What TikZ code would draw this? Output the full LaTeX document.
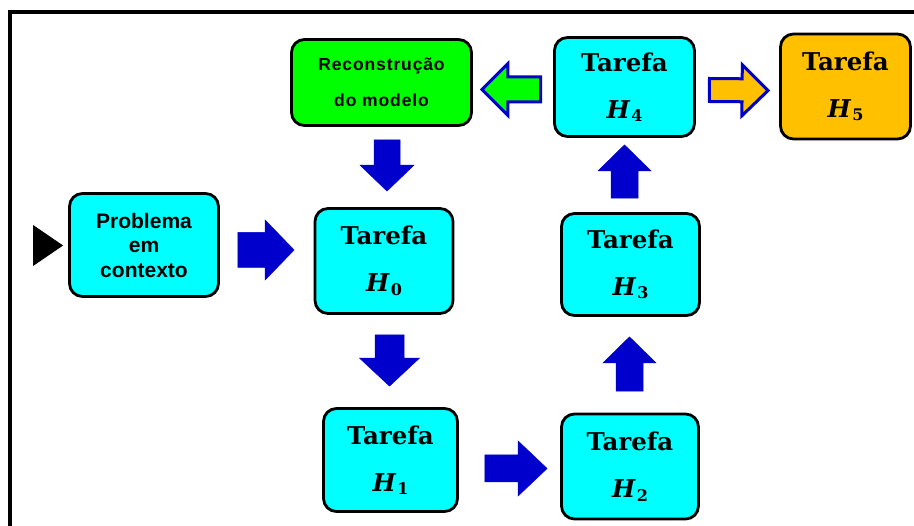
\documentclass[tikz,border=0pt]{standalone}
\usepackage{fontspec}
\setmainfont{DejaVu Serif}
\newfontfamily\arialfont{Liberation Sans}
\newfontfamily\arialwide{Liberation Sans}[LetterSpace=5]
\usetikzlibrary{arrows.meta,calc}
\usepackage{xcolor}
\definecolor{TaskCyan}{RGB}{0,255,255}
\definecolor{ModelGreen}{RGB}{0,255,0}
\definecolor{FinalOrange}{RGB}{255,192,0}
\definecolor{ArrowBlue}{RGB}{0,0,204}
\newcommand{\Hsub}[1]{{\itshape H}\kern1.5pt\raisebox{-3.5pt}{\fontsize{16}{16}\selectfont #1}}

\begin{document}
\begin{tikzpicture}[x=1pt, y=-1pt,
    task/.style={rectangle, draw=black, line width=2.8pt, fill=TaskCyan, rounded corners=13pt,
                 minimum width=138pt, minimum height=103pt, inner sep=0pt, align=center,
                 font=\fontsize{24.5}{47}\selectfont\bfseries},
    ctx/.style={task, font=\arialfont\fontsize{21}{24.5}\selectfont\bfseries},
    block/.style n args={3}{to path={
        let \p1=(\tikztostart), \p2=(\tikztotarget),
            \n1={atan2(\y2-\y1,\x2-\x1)}, \n2={veclen(\x2-\x1,\y2-\y1)} in
        ($(\p1)+(\n1+90:#1)$) -- ($(\p1)+(\n1:\n2-#3)+(\n1+90:#1)$)
        -- ($(\p1)+(\n1:\n2-#3)+(\n1+90:#2)$) -- (\p2)
        -- ($(\p1)+(\n1:\n2-#3)+(\n1-90:#2)$) -- ($(\p1)+(\n1:\n2-#3)+(\n1-90:#1)$)
        -- ($(\p1)+(\n1-90:#1)$) -- cycle}},
    barrow/.style={fill=ArrowBlue, draw=ArrowBlue, line width=0.5pt},
    oarrow/.style={draw=ArrowBlue, line width=3pt}
]
    \useasboundingbox (0,0) rectangle (914,526);
    \draw[line width=3.5pt] (10,530) -- (10,12) -- (918,12);

    \node[ctx, minimum width=149pt, minimum height=103pt] (prob) at (144,245) {Problema\\em\\contexto};
    \node[task, minimum width=138pt, minimum height=105pt] (h0) at (384,261) {Tarefa\\\Hsub{0}};
    \node[task, fill=ModelGreen, minimum width=180pt, minimum height=86pt,
          font=\arialwide\fontsize{17.5}{36}\selectfont\bfseries] (recon) at (381.5,82.5) {Reconstrução\\do modelo};
    \node[task, minimum width=134pt, minimum height=103pt] (h1) at (390.5,460) {Tarefa\\\Hsub{1}};
    \node[task, minimum width=137pt, minimum height=105pt] (h2) at (630,466.5) {Tarefa\\\Hsub{2}};
    \node[task, minimum width=138pt, minimum height=102pt] (h3) at (630.5,264.5) {Tarefa\\\Hsub{3}};
    \node[task, minimum width=140pt, minimum height=99pt] (h4) at (624.5,87) {Tarefa\\\Hsub{4}};
    \node[task, fill=FinalOrange, minimum width=130pt, minimum height=105pt] (h5) at (845.5,86.5) {Tarefa\\\Hsub{5}};

    \fill ($(prob.west)+(-5,0.5)$) -- ++(-30,-20.5) -- ++(0,41) -- cycle;

    \draw[barrow, block={17.5pt}{30pt}{29pt}] ($(prob.east)+(18,5)$) to ($(h0.west)+(-19.5,-11)$);
    \draw[barrow, block={13pt}{27pt}{26pt}] ($(recon.south)+(5.5,13)$) to ($(h0.north)+(3,-16)$);
    \draw[barrow, block={14.5pt}{30pt}{28pt}] ($(h0.south)+(5.5,20)$) to ($(h1.north)+(-1,-21)$);
    \draw[barrow, block={13.5pt}{27.5pt}{29pt}] ($(h1.east)+(26,8.5)$) to ($(h2.west)+(-13,2)$);
    \draw[barrow, block={13.5pt}{26.5pt}{26pt}] ($(h2.north)+(-0.5,-21.5)$) to ($(h3.south)+(-1,20)$);
    \draw[barrow, block={13.5pt}{26.5pt}{26pt}] ($(h3.north)+(-6,-14)$) to ($(h4.south)+(0,7)$);
    \draw[oarrow, fill=ModelGreen, block={12.5pt}{26pt}{26pt}] ($(h4.west)+(-12.5,2.5)$) to ($(recon.east)+(9,7)$);
    \draw[oarrow, fill=FinalOrange, block={11.5pt}{25.5pt}{26pt}] ($(h4.east)+(13.5,3)$) to ($(h5.west)+(-11,4)$);
\end{tikzpicture}
\end{document}
